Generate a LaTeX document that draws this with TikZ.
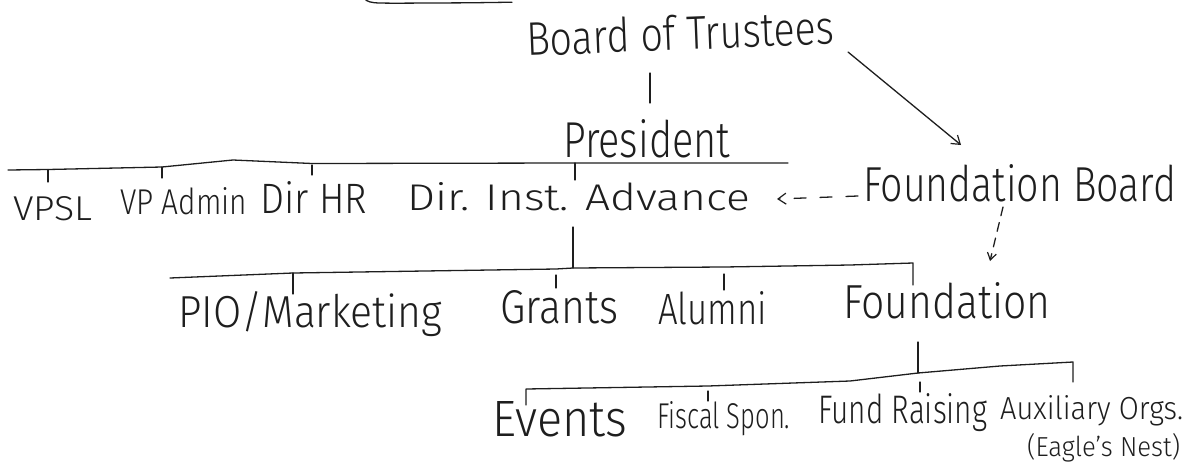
\documentclass[tikz,border=0pt]{standalone}
\usepackage{fontspec}
\IfFontExistsTF{Fira Sans Light}{\setmainfont{Fira Sans Light}}{\setmainfont{Fira Sans}}
\usetikzlibrary{arrows.meta}
\definecolor{ink}{HTML}{1E1E1E}
\newcommand\hw[3]{\resizebox{#1pt}{#2pt}{#3}}
\begin{document}
\begin{tikzpicture}[x=1pt,y=-1pt,
  lbl/.style={anchor=base west,inner sep=0pt,text=ink,font=\fontsize{30}{36}\selectfont},
  wire/.style={draw=ink,line width=1.3pt,line cap=round,line join=round},
  barb/.style={-{Straight Barb[length=8pt,width=11pt,line width=1.2pt]}},
  dashA/.style={dash pattern=on 12pt off 14pt},
  dashB/.style={dash pattern=on 9pt off 7pt}]
\useasboundingbox (0,0) rectangle (1193,466);
% partial stroke at the top edge
\draw[wire] (366,0.3) .. controls (372,3) .. (395,3.2) -- (470,2.8) -- (512,2.2);

% texts
\node[lbl,rotate=2.2] (bot) at (527,56) {\hw{308}{35}{Board of Trustees}};
\node[lbl] (pres) at (563,157) {\hw{167}{38}{President}};
\node[lbl] (vpsl) at (13,220) {\hw{79}{24}{VPSL}};
\node[lbl] (vpad) at (120,214) {\hw{127}{27}{VP Admin}};
\node[lbl] (dhr)  at (260,213) {\hw{107}{32}{Dir HR}};
\node[lbl] (adv)  at (407,210) {\hw{343}{28}{Dir. Inst. Advance}};
\node[lbl] (fb)   at (863,201) {\hw{313}{37}{Foundation Board}};
\node[lbl] (pio)  at (178,327) {\hw{264}{36}{PIO/Marketing}};
\node[lbl] (gra)  at (500,323) {\hw{118}{33}{Grants}};
\node[lbl] (alu)  at (658,324) {\hw{109}{33}{Alumni}};
\node[lbl] (fdn)  at (843,318) {\hw{207}{36}{Foundation}};
\node[lbl] (evt)  at (492,436) {\hw{135}{35}{Events}};
\node[lbl] (fis)  at (657,428) {\hw{133}{27}{Fiscal Spon.}};
\node[lbl] (fun)  at (818,423) {\hw{169}{30}{Fund Raising}};
\node[lbl] (aux)  at (1000,419) {\hw{183}{24}{Auxiliary Orgs.}};
\node[lbl] (eag)  at (1027,456) {\hw{153}{23}{(Eagle's Nest)}};

% Board -> President
\coordinate (botS) at (650,73);
\coordinate (presN) at (650,103);
\draw[wire] (botS) -- (presN);

% bus 1
\coordinate (b1L) at (8,170);
\coordinate (b1a) at (48,169.5);
\coordinate (b1b) at (162,167);
\coordinate (b1c) at (233,160);
\coordinate (b1d) at (312,163.5);
\coordinate (b1e) at (575,163);
\coordinate (b1R) at (788,163);
\draw[wire] (b1L) -- (b1a) -- (b1b) -- (b1c) -- (b1d) -- (b1e) -- (b1R);
\coordinate (t1a) at (48,182);
\coordinate (t1b) at (162,178);
\coordinate (t1c) at (312,175);
\coordinate (t1d) at (575,180);
\draw[wire] (b1a) -- (t1a);
\draw[wire] (b1b) -- (t1b);
\draw[wire] (312,165) -- (t1c);
\draw[wire] (b1e) -- (t1d);

% Advance -> bus 2
\coordinate (advS) at (573,227);
\coordinate (b2m) at (573,268);
\draw[wire] (advS) -- (b2m);
\coordinate (b2L) at (170,278);
\coordinate (b2a) at (293,273);
\coordinate (b2b) at (556,269);
\coordinate (b2c) at (724,267);
\coordinate (b2d) at (850,265);
\coordinate (b2R) at (913,263);
\coordinate (b2E) at (913,285);
\draw[wire] (b2L) -- (b2a) -- (b2b) -- (b2m) -- (b2c) -- (b2d) -- (b2R) -- (b2E);
\draw[wire] (b2a) -- (293,294);
\draw[wire] (556,275) -- (556,288);
\draw[wire] (724,274) -- (724,290);

% Foundation -> bus 3
\coordinate (fdnS) at (918,342);
\coordinate (b3m) at (918,373);
\draw[wire] (fdnS) -- (b3m);
\coordinate (b3E) at (526,405);
\coordinate (b3L) at (526,389);
\coordinate (b3a) at (708,386);
\coordinate (b3b) at (850,381);
\coordinate (b3c) at (1000,366);
\coordinate (b3R) at (1073,362);
\coordinate (b3F) at (1073,382);
\draw[wire] (b3E) -- (b3L) -- (b3a) -- (b3b) -- (b3m) -- (b3c) -- (b3R) -- (b3F);
\draw[wire] (708,391) -- (708,401);
\draw[wire] (920,382) -- (920,392);

% Board -> Foundation Board
\coordinate (a1s) at (848,52);
\coordinate (a1e) at (961,145);
\draw[wire,barb] (a1s) -- (a1e);

% Foundation Board --> Advance (dashed)
\coordinate (fbW) at (858,196);
\coordinate (advE) at (777,199);
\draw[wire,barb,dashA] (fbW) -- (advE);

% Foundation Board --> Foundation (dashed)
\coordinate (fbS) at (1003,207);
\coordinate (fdnN) at (990,261);
\draw[wire,-{Straight Barb[length=7pt,width=9pt,line width=1.2pt]},dashB] (fbS) -- (fdnN);
\end{tikzpicture}
\end{document}
